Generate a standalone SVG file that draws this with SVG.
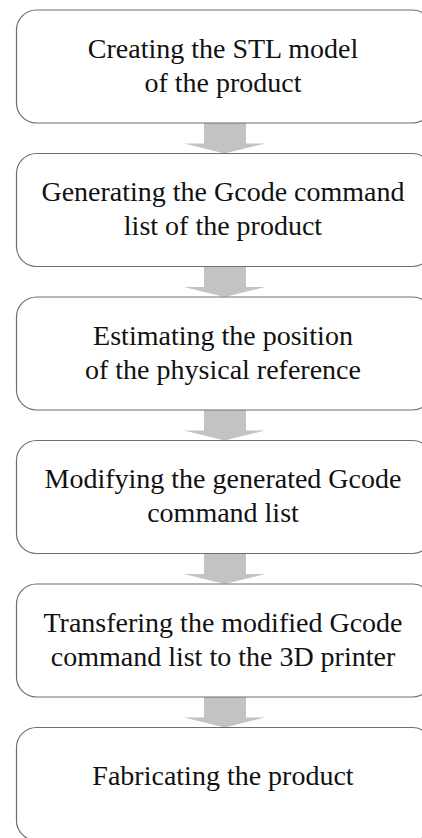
<svg xmlns="http://www.w3.org/2000/svg" width="422" height="838" viewBox="0 0 422 838">
  <style>
    .box { fill: #ffffff; stroke: #6e6e6e; stroke-width: 1.2; }
    .lbl { font-family: 'Liberation Serif', Tinos, 'Times New Roman', Times, 'DejaVu Serif', serif; font-size: 28px; fill: #111111; text-anchor: middle; }
    .arrow { fill: #c3c3c3; stroke: none; }
  </style>
  <rect width="422" height="838" fill="#ffffff"/>

  <!-- block arrows between steps -->
  <g id="connectors">
    <path class="arrow" d="M204,123 H246 V143.5 H265 L224.5,153.5 L184,143.5 H204 Z"/>
    <path class="arrow" d="M204,266.5 H246 V287 H265 L224.5,297 L184,287 H204 Z"/>
    <path class="arrow" d="M204,410 H246 V430.5 H265 L224.5,440.5 L184,430.5 H204 Z"/>
    <path class="arrow" d="M204,553.5 H246 V574 H265 L224.5,584 L184,574 H204 Z"/>
    <path class="arrow" d="M204,697 H246 V717.5 H265 L224.5,727.5 L184,717.5 H204 Z"/>
  </g>

  <g id="step1">
    <rect class="box" x="16.5" y="10" width="416" height="113" rx="20" ry="20"/>
    <text class="lbl" x="223" y="57.5" font-family="Liberation Serif, serif">Creating the STL model</text>
    <text class="lbl" x="223" y="91.5">of the product</text>
  </g>

  <g id="step2">
    <rect class="box" x="16.5" y="153.5" width="416" height="113" rx="20" ry="20"/>
    <text class="lbl" x="223" y="201">Generating the Gcode command</text>
    <text class="lbl" x="223" y="235">list of the product</text>
  </g>

  <g id="step3">
    <rect class="box" x="16.5" y="297" width="416" height="113" rx="20" ry="20"/>
    <text class="lbl" x="223" y="344.5">Estimating the position</text>
    <text class="lbl" x="223" y="378.5">of the physical reference</text>
  </g>

  <g id="step4">
    <rect class="box" x="16.5" y="440.5" width="416" height="113" rx="20" ry="20"/>
    <text class="lbl" x="223" y="488">Modifying the generated Gcode</text>
    <text class="lbl" x="223" y="522">command list</text>
  </g>

  <g id="step5">
    <rect class="box" x="16.5" y="584" width="416" height="113" rx="20" ry="20"/>
    <text class="lbl" x="223" y="631.5">Transfering the modified Gcode</text>
    <text class="lbl" x="223" y="665.5">command list to the 3D printer</text>
  </g>

  <g id="step6">
    <rect class="box" x="16.5" y="727.5" width="416" height="113" rx="20" ry="20"/>
    <text class="lbl" x="223" y="785">Fabricating the product</text>
  </g>
</svg>
